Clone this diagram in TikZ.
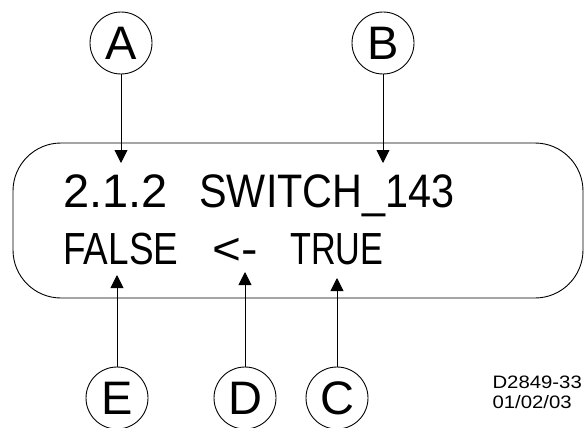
\documentclass[tikz,border=0pt]{standalone}
\usepackage{fontspec}
\setmainfont{Liberation Sans}
\usetikzlibrary{arrows.meta, positioning}

\begin{document}
\begin{tikzpicture}[x=1pt, y=-1pt, line width=0.9pt,
    tag/.style={draw, circle, minimum size=62pt, inner sep=0pt, font=\fontsize{47}{47}\selectfont},
    word/.style={anchor=base west, inner sep=0pt, font=\fontsize{47}{47}\selectfont},
    pointer/.style={-{Triangle[length=13pt,width=13pt]}}]
    \useasboundingbox (0,0) rectangle (584,428);
    % display window
    \draw[rounded corners=48pt] (13,143) rectangle (583,298);
    \node[word] (num) at (63,207) {2.1.2};
    \node[word, xscale=0.88] (name) at (199,207) {SWITCH\_143};
    \node[word, xscale=0.82, font=\fontsize{45}{45}\selectfont] (old) at (63,264) {FALSE};
    \node[word, xscale=1.1, font=\fontsize{45}{45}\selectfont] (sym) at (212,264) {<-};
    \node[word, xscale=0.76, font=\fontsize{45}{45}\selectfont] (new) at (290,264) {TRUE};
    % callouts
    \node[tag] (cA) at (121,43) {A};
    \node[tag] (cB) at (383,43) {B};
    \node[tag] (cE) at (117,398) {E};
    \node[tag] (cD) at (245,398) {D};
    \node[tag] (cC) at (337,398) {C};
    \coordinate (tipA) at (121,163);
    \coordinate (tipB) at (383,163);
    \coordinate (tipE) at (117,275);
    \coordinate (tipD) at (245,272);
    \coordinate (tipC) at (337,278);
    \draw[pointer] (cA) -- (tipA);
    \draw[pointer] (cB) -- (tipB);
    \draw[pointer] (cE) -- (tipE);
    \draw[pointer] (cD) -- (tipD);
    \draw[pointer] (cC) -- (tipC);
    % drawing number
    \node[anchor=base west, inner sep=0pt, xscale=1.13, font=\fontsize{18}{18}\selectfont] (code) at (492,388) {D2849-33};
    \node[anchor=base west, inner sep=0pt, xscale=1.13, font=\fontsize{18}{18}\selectfont] (date) at (492,408) {01/02/03};
\end{tikzpicture}
\end{document}
